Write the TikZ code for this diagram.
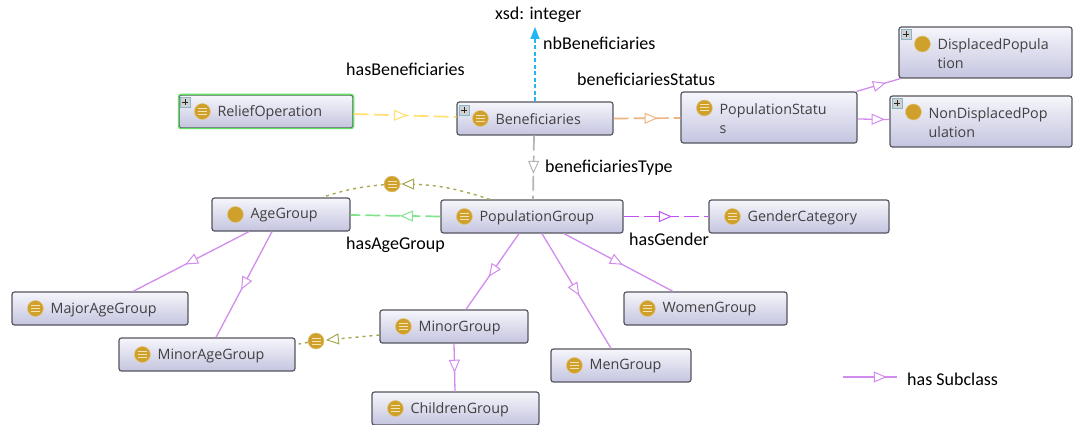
\documentclass[tikz,border=0pt]{standalone}
\usepackage{fontspec}
\setmainfont{Open Sans}
\newfontfamily\calib{Carlito}
\usetikzlibrary{calc,decorations.markings,arrows.meta}
\definecolor{gold}{HTML}{CFA02B}
\definecolor{goldline}{HTML}{F3E3B5}
\definecolor{boxtop}{HTML}{F6F6FB}
\definecolor{boxbot}{HTML}{C4C4E0}
\definecolor{boxline}{HTML}{55555F}
\definecolor{subcl}{HTML}{D28CEE}
\definecolor{yel}{HTML}{FFE070}
\definecolor{ora}{HTML}{EEB584}
\definecolor{gry}{HTML}{B4B4B4}
\definecolor{grn}{HTML}{80E48C}
\definecolor{pur}{HTML}{C050F0}
\definecolor{blu}{HTML}{22B6F2}
\definecolor{oli}{HTML}{A8A850}
\definecolor{selgreen}{HTML}{62E062}
\tikzset{
  x=1pt,y=-1pt,
  umlbox/.style={draw=boxline,line width=1.2pt,rounded corners=2.5pt,top color=boxtop,bottom color=boxbot,inner sep=0pt},
  classname/.style={font=\fontsize{14.3}{19.5}\selectfont,text=black!75,inner sep=0pt,anchor=west,align=left},
  caption/.style={font=\calib\fontsize{18}{20}\selectfont,text=black,inner sep=0pt,anchor=west},
  dot/.style={circle,fill=gold,draw=gold!60,line width=.5pt,minimum size=16pt,inner sep=0pt},
  listdot/.style={dot,path picture={
    \draw[goldline,line width=1pt] ([shift={(-4.5,-3)}]path picture bounding box.center)--++(9,0);
    \draw[goldline,line width=1pt] ([shift={(-4.5,0)}]path picture bounding box.center)--++(9,0);
    \draw[goldline,line width=1pt] ([shift={(-4.5,3)}]path picture bounding box.center)--++(9,0);}},
  plusicon/.style={rectangle,fill=black!18,draw=blu!30!gry,line width=.8pt,minimum size=10pt,inner sep=0pt,path picture={
    \draw[black!85,line width=1.2pt] ([shift={(-3,0)}]path picture bounding box.center)--++(6,0);
    \draw[black!85,line width=1.2pt] ([shift={(0,-3)}]path picture bounding box.center)--++(0,6);}},
  tri/.style={postaction={decorate,decoration={markings,mark=at position #1 with {\arrow[solid,line width=1pt]{Triangle[open,fill=white,length=13pt,width=11pt]}}}}},
  dashline/.style={line width=1.7pt,dash pattern=on 15pt off 5pt},
  subline/.style={draw=subcl,line width=1.3pt},
  dotline/.style={draw=oli,line width=1.4pt,dash pattern=on 3pt off 4pt},
}
% {id}{x1}{y1}{x2}{y2}{icon style}{icon y offset}{text}
\newcommand{\classnode}[8]{%
  \pgfmathsetmacro{\bw}{#4-#2}\pgfmathsetmacro{\bh}{#5-#3}%
  \pgfmathsetmacro{\bx}{(#2+#4)/2}\pgfmathsetmacro{\by}{(#3+#5)/2}%
  \node[umlbox,minimum width=\bw pt,minimum height=\bh pt] (#1) at (\bx,\by) {};
  \node[#6] (#1-i) at ([shift={(24,#7)}]#1.west) {};
  \node[classname] (#1-t) at ([shift={(39,1)}]#1.west) {#8};
}
\begin{document}
\begin{tikzpicture}
\useasboundingbox (0,0) rectangle (1073,425);
\fill[white] (0,0) rectangle (1073,425);

% captions
\node[caption] (xsd) at (495,15) {xsd: integer};
\node[caption] (lnb) at (543,43) {nbBeneficiaries};
\node[caption] (lhb) at (346,69) {hasBeneficiaries};
\node[caption] (lbs) at (577,79) {beneficiariesStatus};
\node[caption] (lbt) at (545,168) {beneficiariesType};
\node[caption] (lag) at (346,245) {hasAgeGroup};
\node[caption] (lhg) at (629,239) {hasGender};
\node[caption] (lsc) at (907,379) {has Subclass};

% classes
\classnode{rel}{179}{95}{353}{128}{listdot}{0}{ReliefOperation}
\draw[selgreen,line width=1.3pt,rounded corners=2.5pt] (rel.north west) rectangle (rel.south east);
\classnode{ben}{457}{102}{613}{135}{listdot}{0}{Beneficiaries}
\classnode{sta}{681}{92}{857}{143}{listdot}{-9.5}{PopulationStatu\\s}
\classnode{dis}{899}{27}{1072}{78}{dot}{-8.5}{DisplacedPopula\\tion}
\classnode{non}{890}{96}{1072}{147}{dot}{-9.5}{NonDisplacedPop\\ulation}
\classnode{gen}{709}{200}{889}{233}{listdot}{0}{GenderCategory}
\classnode{age}{212}{198}{350}{231}{dot}{0}{AgeGroup}
\classnode{pop}{441}{200}{623}{233}{listdot}{0}{PopulationGroup}
\classnode{maj}{12}{292}{188}{325}{listdot}{0}{MajorAgeGroup}
\classnode{mia}{119}{338}{295}{371}{listdot}{0}{MinorAgeGroup}
\classnode{mig}{380}{310}{528}{343}{listdot}{0}{MinorGroup}
\classnode{chi}{372}{392}{539}{425}{listdot}{0}{ChildrenGroup}
\classnode{men}{551}{349}{691}{382}{listdot}{0}{MenGroup}
\classnode{wom}{624}{292}{787}{325}{listdot}{0}{WomenGroup}

\node[plusicon] (rel-p) at ([shift={(7,8)}]rel.north west) {};
\node[plusicon] (ben-p) at ([shift={(8,9)}]ben.north west) {};
\node[plusicon] (dis-p) at ([shift={(8,8)}]dis.north west) {};
\node[plusicon] (non-p) at ([shift={(8,8)}]non.north west) {};

% object properties
\draw[yel,dashline,tri=.52] ([shift={(0,2.5)}]rel.east) -- ([shift={(0,-1.5)}]ben.west);
\draw[ora,dashline,tri=.66] (ben.east) -- ([shift={(0,.5)}]sta.west);
\draw[gry,dashline,tri=.6] ([xshift=-1]ben.south) -- ([xshift=1]pop.north);
\draw[grn,dashline,tri=.45] (pop.west) -- ([shift={(0,.5)}]age.east);
\draw[pur,dashline,tri=.57] (pop.east) -- (gen.west);
\draw[blu,line width=1.5pt,dash pattern=on 4pt off 2.5pt,-{Triangle[length=12pt,width=9pt]}] (ben.north) -- ([shift={(0,4)}]xsd.south -| ben.north);

% subclass links
\draw[subline,tri=.67] ([shift={(-1,0)}]sta.north east) -- ([shift={(2,0)}]dis.south west);
\draw[subline,tri=.85] ([shift={(0,1.5)}]sta.east) -- ([shift={(0,-2)}]non.west);
\draw[subline,tri=.55] ([xshift=-32]age.south) -- ([xshift=33]maj.north);
\draw[subline,tri=.55] ([xshift=-9]age.south) -- ([xshift=9]mia.north);
\draw[subline,tri=.57] ([xshift=-13]pop.south) -- ([xshift=12]mig.north);
\draw[subline,tri=.54] ([xshift=10]pop.south) -- ([xshift=-10]men.north);
\draw[subline,tri=.54] ([xshift=32]pop.south) -- ([xshift=-32.5]wom.north);
\draw[subline,tri=.61] (mig.south) -- ([xshift=-0.5]chi.north);

% disjoint links
\node[listdot] (d1) at (392,184) {};
\node[listdot] (d2) at (316,341) {};
\draw[dotline,tri=.99] ([xshift=-42]pop.north) to[out=162,in=0] (d1);
\draw[dotline] (d1) to[out=185,in=18] ([xshift=41]age.north);
\draw[dotline,tri=.97] ([shift={(0,8.5)}]mig.west) -- (d2);
\draw[dotline] (d2) -- ([shift={(3,-10.5)}]mia.east);

% legend
\coordinate (lega) at (843,377);
\coordinate (legb) at (897,377);
\draw[subline,line width=1.6pt,tri=.81] (lega) -- (legb);
\end{tikzpicture}
\end{document}
